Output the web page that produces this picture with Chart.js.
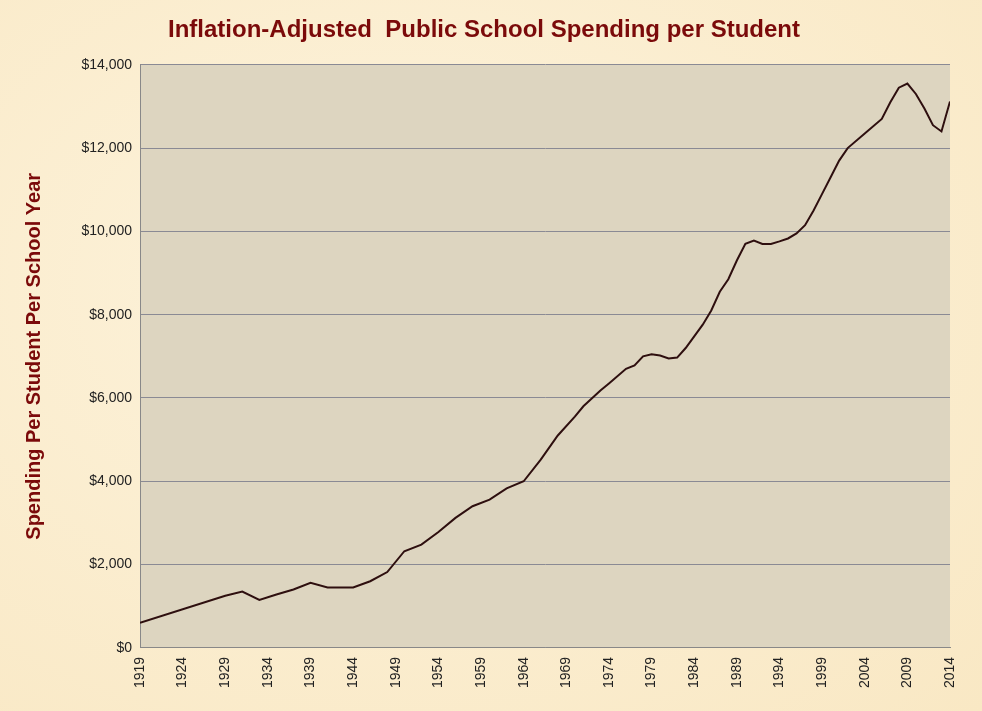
<!DOCTYPE html>
<html><head><meta charset="utf-8">
<script src="https://cdn.jsdelivr.net/npm/chart.js@4/dist/chart.umd.min.js"></script>
<style>
html,body{margin:0;padding:0;}
body{width:982px;height:711px;background:radial-gradient(ellipse at 40% 40%,#fdf3dc,#f9e8c4);}
#wrap{position:relative;width:982px;height:711px;}
</style></head><body>
<div id="wrap"><canvas id="c" width="982" height="711"></canvas></div>
<script>
const years = [1919,1929,1931,1933,1935,1937,1939,1941,1944,1946,1948,1950,1952,1954,1956,1958,1960,1962,1964,1966,1968,1970,1971,1973,1974,1976,1977,1978,1979,1980,1981,1982,1983,1985,1986,1987,1988,1989,1990,1991,1992,1993,1994,1995,1996,1997,1998,1999,2000,2001,2002,2004,2006,2007,2008,2009,2010,2011,2012,2013,2014];
const spending = [600,1250,1350,1150,1280,1400,1560,1450,1450,1600,1820,2320,2480,2780,3120,3400,3560,3830,4000,4520,5100,5550,5800,6180,6350,6700,6780,7000,7050,7020,6950,6970,7200,7760,8100,8550,8850,9300,9700,9780,9700,9700,9760,9830,9950,10150,10500,10900,11300,11700,12000,12350,12700,13100,13450,13550,13300,12950,12550,12400,13120];
const yearTicks = [1919,1924,1929,1934,1939,1944,1949,1954,1959,1964,1969,1974,1979,1984,1989,1994,1999,2004,2009,2014];
const dark = '#7b0a0a';

const plotBg = {
  id: 'plotBg',
  beforeDraw(chart) {
    const { ctx, chartArea: a } = chart;
    ctx.save();
    ctx.fillStyle = '#ddd5c0';
    ctx.fillRect(a.left, a.top, a.right - a.left, a.bottom - a.top);
    ctx.restore();
  }
};

new Chart(document.getElementById('c'), {
  type: 'line',
  data: { datasets: [{ data: years.map((y, i) => ({ x: y, y: spending[i] })), borderColor: '#2e0f0f', borderWidth: 2, pointRadius: 0, tension: 0 }] },
  options: {
    responsive: false, animation: false,
    layout: { padding: { left: 18, right: 32, top: 8, bottom: 20 } },
    plugins: {
      legend: { display: false },
      title: { display: true, text: 'Inflation-Adjusted  Public School Spending per Student', color: dark, font: { family: 'Arial, Liberation Sans', size: 24, weight: 'bold' }, padding: { top: 8, bottom: 20 } },
    },
    scales: {
      x: {
        type: 'linear', min: 1919, max: 2014,
        afterBuildTicks: (s) => { s.ticks = yearTicks.map((v) => ({ value: v })); },
        grid: { display: false, drawTicks: true, tickLength: 6, color: '#888' },
        border: { color: '#888' },
        ticks: { maxRotation: 90, minRotation: 90, autoSkip: false, color: '#222', font: { family: 'Arial', size: 14 }, callback: (v) => String(v) },
      },
      y: {
        min: 0, max: 14000,
        afterFit: (s) => { s.width = 122; },
        ticks: { stepSize: 2000, padding: 8, color: '#222', font: { family: 'Arial', size: 14 }, callback: (v) => '$' + v.toLocaleString('en-US') },
        grid: { color: '#8a8a94', drawTicks: false },
        border: { color: '#888' },
        title: { display: true, text: 'Spending Per Student Per School Year', color: dark, font: { family: 'Arial', size: 20, weight: 'bold' } },
      },
    },
  },
  plugins: [plotBg],
});
</script>
</body></html>
